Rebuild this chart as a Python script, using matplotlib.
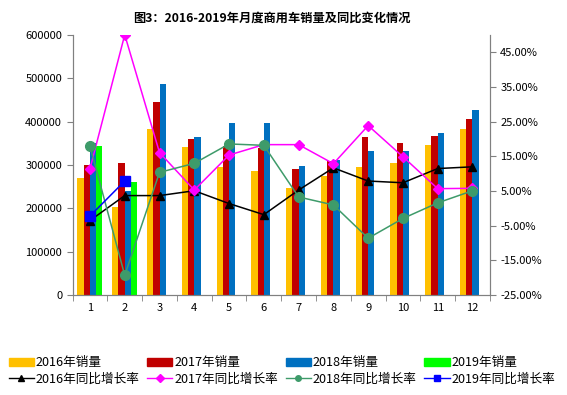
import numpy as np
import matplotlib
matplotlib.use('Agg')
import matplotlib.pyplot as plt
from matplotlib.patches import Patch
from matplotlib.lines import Line2D

plt.rcParams['font.family'] = ['Noto Sans CJK SC', 'DejaVu Sans']

# Data.
months = [str(m) for m in range(1, 13)]
sales_2016 = [270000, 203000, 382000, 341000, 295000, 286000, 247000, 275000, 295000, 304000, 346000, 383000]
sales_2017 = [300000, 304000, 445000, 359000, 343000, 339000, 290000, 308000, 365000, 351000, 366000, 406000]
sales_2018 = [350000, 240000, 487000, 364000, 396000, 396000, 297000, 311000, 332000, 332000, 373000, 427000]
sales_2019 = [343000, 260000]
yoy_2016 = [-3.5, 3.7, 3.7, 5.1, 1.4, -1.8, 5.3, 11.7, 7.9, 7.4, 11.5, 12.0]
yoy_2017 = [11.4, 50.1, 16.1, 5.3, 15.4, 18.4, 18.4, 12.9, 23.9, 14.9, 5.7, 5.8]
yoy_2018 = [18.0, -19.3, 10.4, 13.0, 18.6, 18.2, 3.3, 1.0, -8.6, -2.9, 1.6, 5.1]
yoy_2019 = [-2.2, 7.9]

bar_colors = ['#FFC000', '#C00000', '#0070C0', '#00FF00']
line_colors = ['black', '#FF00FF', '#3E9B6A', '#0000FF']
line_markers = ['^', 'D', 'o', 's']
years = ['2016', '2017', '2018', '2019']

fig = plt.figure(figsize=(5.67, 3.95), dpi=100)
ax = fig.add_axes([0.128, 0.253, 0.736, 0.659])
ax2 = ax.twinx()

x = np.arange(len(months))
w = 0.18
all_sales = [sales_2016, sales_2017, sales_2018, sales_2019]
for i, vals in enumerate(all_sales):
    xi = x[:len(vals)] + (i - 1.5) * w
    ax.bar(xi, vals, width=w, color=bar_colors[i], zorder=2)

all_yoy = [yoy_2016, yoy_2017, yoy_2018, yoy_2019]
msizes = [6, 5, 7, 7]
for i, vals in enumerate(all_yoy):
    ax2.plot(x[:len(vals)], vals, color=line_colors[i], marker=line_markers[i],
             markersize=msizes[i], linewidth=1.1, zorder=3)

# Axes.
ax.set_xlim(-0.5, 11.5)
ax.set_ylim(0, 600000)
ax.set_yticks(np.arange(0, 600001, 100000))
ax.set_yticklabels([str(v) for v in range(0, 600001, 100000)], fontsize=8)
ax.set_xticks(x)
ax.set_xticklabels(months, fontsize=8)
ax.set_xticks(np.arange(-0.5, 12, 1), minor=True)
ax.tick_params(axis='x', which='major', length=0, pad=6)
ax.tick_params(axis='x', which='minor', length=4, color='#808080')
ax.tick_params(axis='y', length=4, color='#808080')

ax2.set_ylim(-25, 50.1)
ax2.set_yticks(np.arange(-25, 46, 10))
ax2.set_yticklabels(['%.2f%%' % v for v in np.arange(-25, 46, 10)], fontsize=8)
ax2.tick_params(axis='y', length=4, color='#808080')

for a in (ax, ax2):
    a.spines['top'].set_visible(False)
    for s in ('left', 'right', 'bottom'):
        a.spines[s].set_color('#808080')

ax.set_zorder(ax2.get_zorder() - 1)
ax2.patch.set_visible(False)

fig.text(0.48, 0.955, '图3：2016-2019年月度商用车销量及同比变化情况', ha='center', va='center',
         fontsize=8.8, fontweight='bold')

# Legend.
handles = []
labels = []
for i in range(4):
    handles.append(Patch(color=bar_colors[i]))
    labels.append(years[i] + '年销量')
    handles.append(Line2D([], [], color=line_colors[i], marker=line_markers[i], markersize=4, linewidth=1))
    labels.append(years[i] + '年同比增长率')
fig.legend(handles, labels, ncol=4, loc='lower left', bbox_to_anchor=(-0.005, -0.005), frameon=False,
           fontsize=9.1, handlelength=2.0, handletextpad=0.15, columnspacing=0.6, labelspacing=0.25)

fig.savefig('out.png', dpi=100)
